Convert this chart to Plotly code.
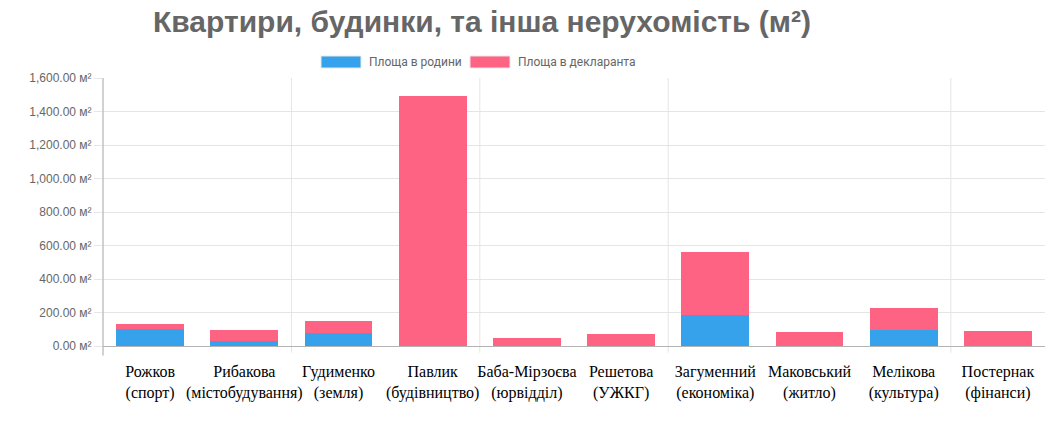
import plotly.graph_objects as go

categories = [
    "Рожков<br>(спорт)",
    "Рибакова<br>(містобудування)",
    "Гудименко<br>(земля)",
    "Павлик<br>(будівництво)",
    "Баба-Мірзоєва<br>(юрвідділ)",
    "Решетова<br>(УЖКГ)",
    "Загуменний<br>(економіка)",
    "Маковський<br>(житло)",
    "Мелікова<br>(культура)",
    "Постернак<br>(фінанси)",
]
family_area = [100, 30, 78, 0, 0, 0, 185, 0, 97, 0]
declarant_area = [31, 66, 71, 1490, 48, 72, 376, 84, 130, 90]
series_names = ["Площа в родини", "Площа в декларанта"]
y_ticks = [0, 200, 400, 600, 800, 1000, 1200, 1400, 1600]
y_tick_labels = [f"{v:,.2f} м²" for v in y_ticks]

BLUE = "rgb(54,162,235)"
PINK = "rgb(255,99,132)"
GRID = "#e5e5e5"
AXIS = "#b3b3b3"

OFF = 8  # page body margin
W, H = 1053 - OFF, 421 - OFF
L, T = 103 - OFF, 78 - OFF
R = W - (1045 - OFF)
B = H - (346 - OFF)
pw, ph = W - L - R, H - T - B

def px_x(p):
    return (p - OFF - L) / pw

def px_y(p):
    return (H - B - (p - OFF)) / ph

fig = go.Figure()
fig.add_trace(go.Bar(x=categories, y=family_area, name=series_names[0],
                     marker=dict(color=BLUE, line=dict(width=0)), showlegend=False))
fig.add_trace(go.Bar(x=categories, y=declarant_area, name=series_names[1],
                     marker=dict(color=PINK, line=dict(width=0)), showlegend=False))

shapes = []
for xb in [1.5, 3.5, 5.5, 8.5]:
    shapes.append(dict(type="line", xref="x", yref="paper", x0=xb, x1=xb,
                       y0=-0.025, y1=1, line=dict(color=GRID, width=1), layer="below"))
shapes.append(dict(type="line", xref="paper", yref="paper", x0=0, x1=0,
                   y0=-0.035, y1=1, line=dict(color=AXIS, width=1.2)))
shapes.append(dict(type="rect", xref="paper", yref="paper",
                   x0=px_x(321), x1=px_x(361), y0=px_y(68), y1=px_y(56),
                   fillcolor=BLUE, line=dict(color="#e8e8e8", width=1)))
shapes.append(dict(type="rect", xref="paper", yref="paper",
                   x0=px_x(470), x1=px_x(510), y0=px_y(68), y1=px_y(56),
                   fillcolor=PINK, line=dict(color="#e8e8e8", width=1)))

annotations = [
    dict(text=series_names[0], xref="paper", yref="paper", x=px_x(367), y=px_y(62),
         xanchor="left", yanchor="middle", showarrow=False,
         font=dict(family="Roboto", size=12, color="#666")),
    dict(text=series_names[1], xref="paper", yref="paper", x=px_x(516), y=px_y(62),
         xanchor="left", yanchor="middle", showarrow=False,
         font=dict(family="Roboto", size=12, color="#666")),
]

fig.update_layout(
    width=W, height=H,
    margin=dict(l=L, r=R, t=T, b=B, pad=0),
    paper_bgcolor="white", plot_bgcolor="white",
    barmode="stack", bargap=0.28,
    title=dict(text="<b>Квартири, будинки, та інша нерухомість (м²)</b>",
               x=(482 - OFF) / W, xref="container", xanchor="center",
               y=1 - (21 - OFF) / H, yref="container", yanchor="middle",
               font=dict(family="Liberation Sans", size=30, color="#666")),
    shapes=shapes,
    annotations=annotations,
    showlegend=False,
    xaxis=dict(range=[-0.5, 9.5], showgrid=False, showline=True, linecolor=AXIS, linewidth=1.2,
               ticks="outside", ticklen=11, tickcolor="rgba(0,0,0,0)",
               tickfont=dict(family="Liberation Serif", size=16, color="#000"),
               tickangle=0),
    yaxis=dict(range=[0, 1600], tickvals=y_ticks, ticktext=y_tick_labels,
               showgrid=True, gridcolor=GRID, gridwidth=1, zeroline=False,
               showline=False, ticks="outside", ticklen=8, tickcolor=GRID,
               tickfont=dict(family="Liberation Sans", size=12, color="#666")),
)

fig.write_html("out.html")
